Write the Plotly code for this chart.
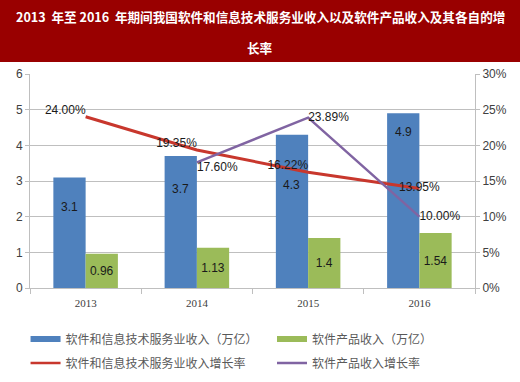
import plotly.graph_objects as go

years = ["2013", "2014", "2015", "2016"]
service_income = [3.1, 3.7, 4.3, 4.9]
product_income = [0.96, 1.13, 1.4, 1.54]
service_growth = [0.24, 0.1935, 0.1622, 0.1395]
product_growth = [None, 0.176, 0.2389, 0.10]
names = ["软件和信息技术服务业收入（万亿）", "软件产品收入（万亿）",
         "软件和信息技术服务业收入增长率", "软件产品收入增长率"]
title_lines = ["2013  年至 2016  年期间我国软件和信息技术服务业收入以及软件产品收入及其各自的增", "长率"]

BLUE, GREEN, RED, PURPLE = "#4F81BD", "#9BBB59", "#C8372D", "#8064A2"
CJK = "Noto Sans CJK SC"
TXT = "#1a1a1a"
BLUE_LABEL_SHIFT = [-30, -33, -50, -19]  # pixel offsets of blue value labels below bar tops

fig = go.Figure()
fig.add_bar(x=years, y=service_income, marker_color=BLUE, showlegend=False,
            marker_line_width=0)
fig.add_bar(x=years, y=product_income, marker_color=GREEN, showlegend=False,
            marker_line_width=0, text=[str(v) for v in product_income],
            textposition="inside", insidetextanchor="middle",
            textfont=dict(family="Liberation Sans", size=12, color=TXT),
            constraintext="none")
fig.add_scatter(x=years, y=service_growth, yaxis="y2", mode="lines+text",
                line=dict(color=RED, width=3), showlegend=False,
                texttemplate="%{y:.2%}",
                textposition=["top left", "top left", "top left", "middle center"],
                textfont=dict(family="Liberation Sans", size=12, color=TXT))
fig.add_scatter(x=years, y=product_growth, yaxis="y2", mode="lines+text",
                line=dict(color=PURPLE, width=2.5), showlegend=False,
                texttemplate="%{y:.2%}",
                textposition=["middle right", "bottom right", "middle right", "middle right"],
                textfont=dict(family="Liberation Sans", size=12, color=TXT))

# legend entries: two vertical legends side by side
legend_of = ["legend", "legend2", "legend", "legend2"]
for k, (nm, col) in enumerate(zip(names, [BLUE, GREEN, RED, PURPLE])):
    w = 6 if col in (BLUE, GREEN) else 2.5
    fig.add_scatter(x=[None], y=[None], mode="lines", name=nm,
                    line=dict(color=col, width=w), showlegend=True,
                    legend=legend_of[k], legendgroup="g%d" % k)

# blue bar value labels
for i, v in enumerate(service_income):
    fig.add_annotation(x=i - 0.145, y=v, xref="x", yref="y", text=str(v),
                       showarrow=False, yshift=BLUE_LABEL_SHIFT[i],
                       xanchor="center", yanchor="middle",
                       font=dict(family="Liberation Sans", size=12, color=TXT))

# title band
fig.add_shape(type="rect", xref="paper", yref="paper", x0=-0.2, x1=1.3,
              y0=1.056, y1=1.5, fillcolor="#990000", line_width=0, layer="below")
for txt, py in zip(title_lines, [16, 47]):
    fig.add_annotation(xref="paper", yref="paper", x=(260 - 30) / 445,
                       y=(288 - py) / 214, text="<b>" + txt + "</b>",
                       xanchor="center", yanchor="middle",
                       showarrow=False, font=dict(family=CJK, size=12.6, color="white"))

leg_common = dict(orientation="v", yanchor="top", xanchor="left",
                  itemwidth=30, tracegroupgap=5, bgcolor="rgba(0,0,0,0)",
                  font=dict(family=CJK, size=12, color="#595959"))
fig.update_layout(
    width=520, height=382,
    margin=dict(l=30, r=45, t=74, b=94, autoexpand=False),
    paper_bgcolor="white", plot_bgcolor="white",
    barmode="group", bargap=0.42, bargroupgap=0,
    xaxis=dict(type="category", showgrid=False, showline=True, linecolor="#BFBFBF",
               ticks="outside", tickson="boundaries", ticklen=5, tickcolor="#BFBFBF",
               ticklabelstandoff=5,
               tickfont=dict(family="Liberation Serif", size=11, color="#404040"),
               range=[-0.5, 3.5]),
    yaxis=dict(range=[0, 6], dtick=1, showgrid=True, gridcolor="#BFBFBF",
               showline=True, linecolor="#BFBFBF", ticks="outside", ticklen=4,
               tickcolor="#BFBFBF", zeroline=False,
               tickfont=dict(family="Liberation Sans", size=12, color="#404040")),
    yaxis2=dict(range=[0, 0.3], dtick=0.05, tickformat=".0%", overlaying="y",
                side="right", showgrid=False, showline=True, linecolor="#BFBFBF",
                ticks="outside", ticklen=4, tickcolor="#BFBFBF", zeroline=False,
                tickfont=dict(family="Liberation Sans", size=12, color="#404040")),
    legend=dict(x=-0.01, y=-0.17, **leg_common),
    legend2=dict(x=(272 - 30) / 445, y=-0.17, **leg_common),
)

fig.write_html("out.html", config={"displayModeBar": False},
               post_script="document.body.style.margin='0';")
